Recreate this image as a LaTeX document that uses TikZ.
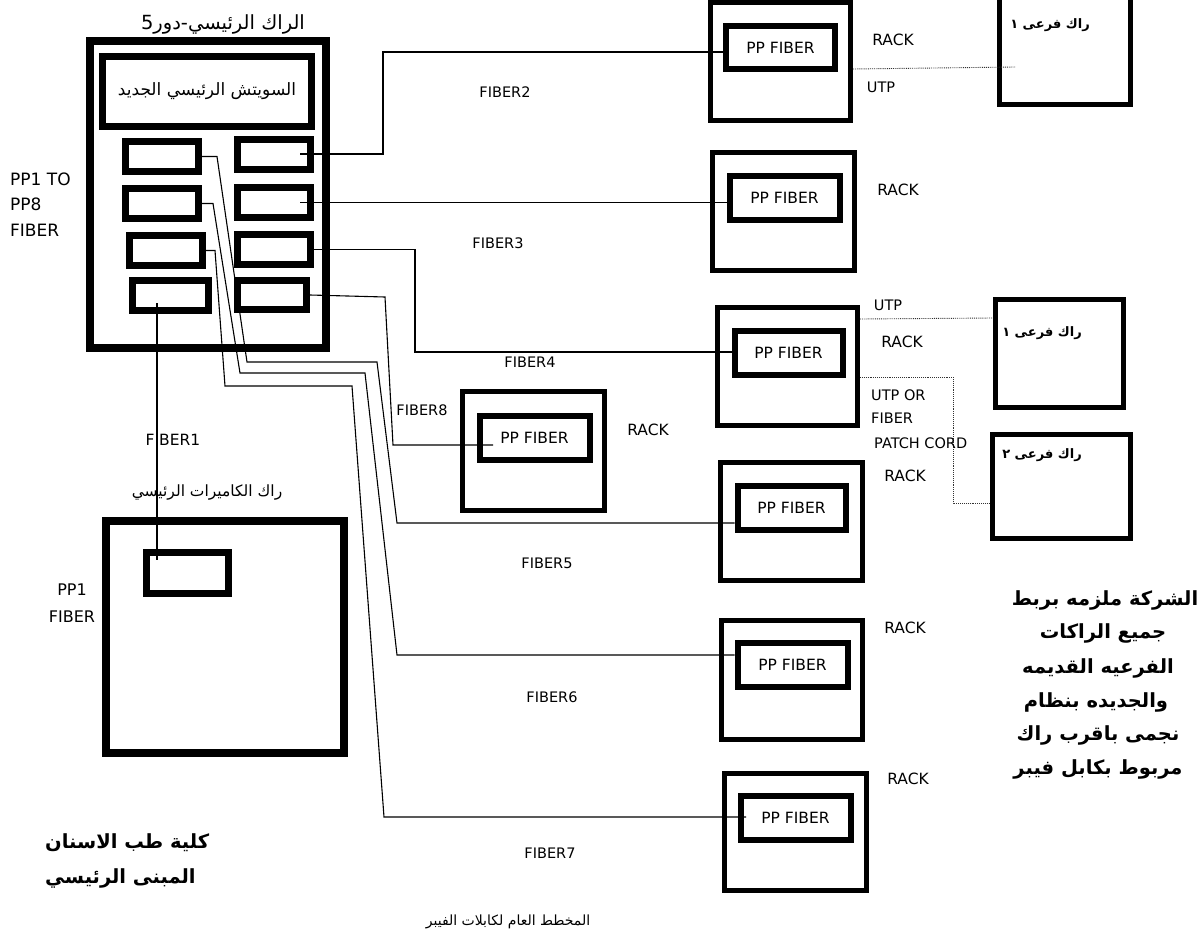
\documentclass[tikz,border=0pt]{standalone}
\usepackage{fontspec}
\setmainfont{DejaVu Sans}
\newfontfamily\arabicfont[Script=Arabic]{DejaVu Sans}
\TeXXeTstate=1
\tikzset{
  bigbox/.style={draw, line width=8pt, inner sep=0pt},
  rackbox/.style={draw, line width=5pt, inner sep=0pt},
  ppbox/.style={draw, line width=6pt, inner sep=0pt, font=\fontsize{15.5}{17}\selectfont},
  wire/.style={line width=1.1pt},
  utp/.style={line width=0.9pt, densely dotted, black!80},
  lbl/.style={inner sep=0pt, font=\fontsize{15.5}{17}\selectfont},
  lbls/.style={inner sep=0pt, font=\fontsize{14.5}{16}\selectfont},
  arl/.style={inner sep=0pt, font=\arabicfont\fontsize{15.5}{17}\selectfont},
  arb/.style={inner sep=0pt, font=\arabicfont\bfseries\fontsize{19.5}{23}\selectfont},
}
\begin{document}
\begin{tikzpicture}[x=1pt,y=-1pt]
\fill[white] (0,0) rectangle (1203,937);
\useasboundingbox (0,0) rectangle (1203,937);

% ---------- main rack ----------
\node[bigbox, minimum width=236pt, minimum height=307pt] (main) at (208,194.5) {};
\node[inner sep=0pt, font=\arabicfont\fontsize{19.5}{22}\selectfont] (maint) at (223,24) {\beginR الراك الرئيسي-دور5\endR};
\node[draw, line width=7pt, minimum width=209pt, minimum height=70pt, inner sep=0pt,
      font=\arabicfont\fontsize{17}{20}\selectfont] (sw) at (207,91.5) {\beginR السويتش الرئيسي الجديد\endR};

\node[ppbox, line width=7pt, minimum width=73pt, minimum height=30pt] (lpp1) at (162,156.5) {};
\node[ppbox, line width=7pt, minimum width=73pt, minimum height=30pt] (lpp2) at (162,203.5) {};
\node[ppbox, line width=7pt, minimum width=73pt, minimum height=30pt] (lpp3) at (166,250.5) {};
\node[ppbox, line width=7pt, minimum width=76pt, minimum height=30pt] (lpp4) at (170,295.5) {};
\node[ppbox, line width=7pt, minimum width=73pt, minimum height=30pt] (rpp1) at (274,154) {};
\node[ppbox, line width=7pt, minimum width=73pt, minimum height=30pt] (rpp2) at (274,202.5) {};
\node[ppbox, line width=7pt, minimum width=73pt, minimum height=30pt] (rpp3) at (274,249.5) {};
\node[ppbox, line width=7pt, minimum width=69pt, minimum height=29pt] (rpp4) at (272,295) {};

\node[lbl, font=\fontsize{17}{19}\selectfont, anchor=west] (pp18a) at (10,179) {PP1 TO};
\node[lbl, font=\fontsize{17}{19}\selectfont, anchor=west] (pp18b) at (10,204) {PP8};
\node[lbl, font=\fontsize{17}{19}\selectfont, anchor=west] (pp18c) at (10,230) {FIBER};

% ---------- camera rack ----------
\node[bigbox, minimum width=238pt, minimum height=232pt] (cam) at (225,637) {};
\node[ppbox, line width=7pt, minimum width=82pt, minimum height=41pt] (camin) at (187.5,573) {};
\node[arl] (camt) at (207,492) {\beginR راك الكاميرات الرئيسي\endR};
\node[lbl, font=\fontsize{16}{18}\selectfont] (pp1a) at (72,590) {PP1};
\node[lbl, font=\fontsize{16}{18}\selectfont] (pp1b) at (72,617) {FIBER};
\node[lbl] (f1l) at (173,440) {FIBER1};

% ---------- right racks ----------
\node[rackbox, minimum width=140pt, minimum height=118pt] (rackA) at (780.5,61.5) {};
\node[ppbox, minimum width=109pt, minimum height=43pt] (inA) at (780.5,47.5) {PP FIBER};
\node[rackbox, minimum width=142pt, minimum height=118pt] (rackB) at (783.5,211.5) {};
\node[ppbox, minimum width=110pt, minimum height=44pt] (inB) at (784.5,198) {PP FIBER};
\node[rackbox, minimum width=140pt, minimum height=118pt] (rackC) at (787.5,366.5) {};
\node[ppbox, minimum width=108pt, minimum height=44pt] (inC) at (788.5,353) {PP FIBER};
\node[rackbox, minimum width=142pt, minimum height=118pt] (rackD) at (791.5,521.5) {};
\node[ppbox, minimum width=108pt, minimum height=44pt] (inD) at (791.5,508) {PP FIBER};
\node[rackbox, minimum width=141pt, minimum height=119pt] (rackE) at (792,680) {};
\node[ppbox, minimum width=110pt, minimum height=44pt] (inE) at (792.5,665) {PP FIBER};
\node[rackbox, minimum width=142pt, minimum height=117pt] (rackF) at (795.5,832) {};
\node[ppbox, minimum width=110pt, minimum height=44pt] (inF) at (795.5,818) {PP FIBER};
\node[rackbox, minimum width=142pt, minimum height=119pt] (rackM) at (533.5,451) {};
\node[ppbox, minimum width=110pt, minimum height=44pt] (inM) at (534.5,438) {PP FIBER};

\node[lbl] (rkA) at (893,40) {RACK};
\node[lbl] (rkB) at (898,190) {RACK};
\node[lbl] (rkC) at (902,342) {RACK};
\node[lbl] (rkM) at (648,430) {RACK};
\node[lbl] (rkD) at (905,476) {RACK};
\node[lbl] (rkE) at (905,628) {RACK};
\node[lbl] (rkF) at (908,779) {RACK};

% ---------- sub racks ----------
\node[rackbox, minimum width=131pt, minimum height=112pt] (S1) at (1065,48.5) {};
\node[rackbox, minimum width=128pt, minimum height=108pt] (S2) at (1059.5,353.5) {};
\node[rackbox, minimum width=138pt, minimum height=104pt] (S3) at (1061.5,486.5) {};
\node[arl, font=\arabicfont\bfseries\fontsize{13}{15}\selectfont] (S1t) at (1050,25) {\beginR راك فرعى ١\endR};
\node[arl, font=\arabicfont\bfseries\fontsize{13}{15}\selectfont] (S2t) at (1042,333) {\beginR راك فرعى ١\endR};
\node[arl, font=\arabicfont\bfseries\fontsize{13}{15}\selectfont] (S3t) at (1042,455) {\beginR راك فرعى ٢\endR};

% ---------- fibre wires ----------
\coordinate (b2) at (383,52);
\draw[wire] ([xshift=-14pt]rpp1.east) -| (b2) -- (b2 -| inA.west);
\draw[wire] ([xshift=-14pt]rpp2.east) -- (rpp2.east -| inB.west);
\coordinate (b4) at (415,352);
\draw[wire] (rpp3.east) -| (b4) -- (b4 -| inC.west);
\coordinate (b8a) at (385,297);
\coordinate (b8b) at (393,445);
\coordinate (e8) at (493,445);
\draw[wire] (rpp4.east) -- (b8a) -- (b8b) -- (e8);
\coordinate (c5a) at (217,156.5);
\coordinate (c5b) at (247,362);
\coordinate (c5c) at (377,362);
\coordinate (b5) at (397,523);
\draw[wire] (lpp1.east) -- (c5a) -- (c5b) -- (c5c) -- (b5) -- (b5 -| inD.west);
\coordinate (c6a) at (213,203.5);
\coordinate (c6b) at (240,373);
\coordinate (c6c) at (365,373);
\coordinate (b6) at (397,655);
\draw[wire] (lpp2.east) -- (c6a) -- (c6b) -- (c6c) -- (b6) -- (b6 -| inE.west);
\coordinate (c7a) at (215,250.5);
\coordinate (c7b) at (225,386);
\coordinate (c7c) at (352,386);
\coordinate (b7) at (384,817);
\coordinate (e7) at (746,817);
\draw[wire] (lpp3.east) -- (c7a) -- (c7b) -- (c7c) -- (b7) -- (e7);
\coordinate (f1a) at (157,303);
\coordinate (f1b) at (157,560);
\draw[wire] (f1a) -- (f1b);

\node[lbls] (f2l) at (505,92) {FIBER2};
\node[lbls] (f3l) at (498,243) {FIBER3};
\node[lbls] (f4l) at (530,362) {FIBER4};
\node[lbls] (f8l) at (422,410) {FIBER8};
\node[lbls] (f5l) at (547,563) {FIBER5};
\node[lbls] (f6l) at (552,697) {FIBER6};
\node[lbls] (f7l) at (550,853) {FIBER7};

% ---------- UTP links ----------
\coordinate (u1a) at (853,69);
\coordinate (u1b) at (1015,67);
\draw[utp] (u1a) -- (u1b);
\node[lbls] (utp1) at (881,87) {UTP};
\coordinate (u2a) at (860,319);
\coordinate (u2b) at (993,318);
\draw[utp] (u2a) -- (u2b);
\node[lbls] (utp2) at (888,305) {UTP};
\coordinate (u3a) at (860,377);
\coordinate (u3b) at (953,377);
\coordinate (u3c) at (953,503);
\draw[utp] (u3a) -- (u3b) -- (u3c) -- (u3c -| S3.west);
\node[lbls, anchor=west] (utp3a) at (871,395) {UTP OR};
\node[lbls, anchor=west] (utp3b) at (871,418) {FIBER};
\node[lbls, anchor=west] (utp3c) at (874,443) {PATCH CORD};

% ---------- notes ----------
\node[arb, anchor=west] (n1) at (45,843) {\beginR كلية طب الاسنان\endR};
\node[arb, anchor=west] (n2) at (45,878) {\beginR المبنى الرئيسي\endR};
\node[arb] (r1) at (1105,600) {\beginR الشركة ملزمه بربط\endR};
\node[arb] (r2) at (1103,633) {\beginR جميع الراكات\endR};
\node[arb] (r3) at (1098,668) {\beginR الفرعيه القديمه\endR};
\node[arb] (r4) at (1096,702) {\beginR والجديده بنظام\endR};
\node[arb] (r5) at (1098,735) {\beginR نجمى باقرب راك\endR};
\node[arb] (r6) at (1098,769) {\beginR مربوط بكابل فيبر\endR};
\node[inner sep=0pt, font=\arabicfont\fontsize{14}{16}\selectfont] (cap) at (508,922) {\beginR المخطط العام لكابلات الفيبر\endR};
\end{tikzpicture}
\end{document}
